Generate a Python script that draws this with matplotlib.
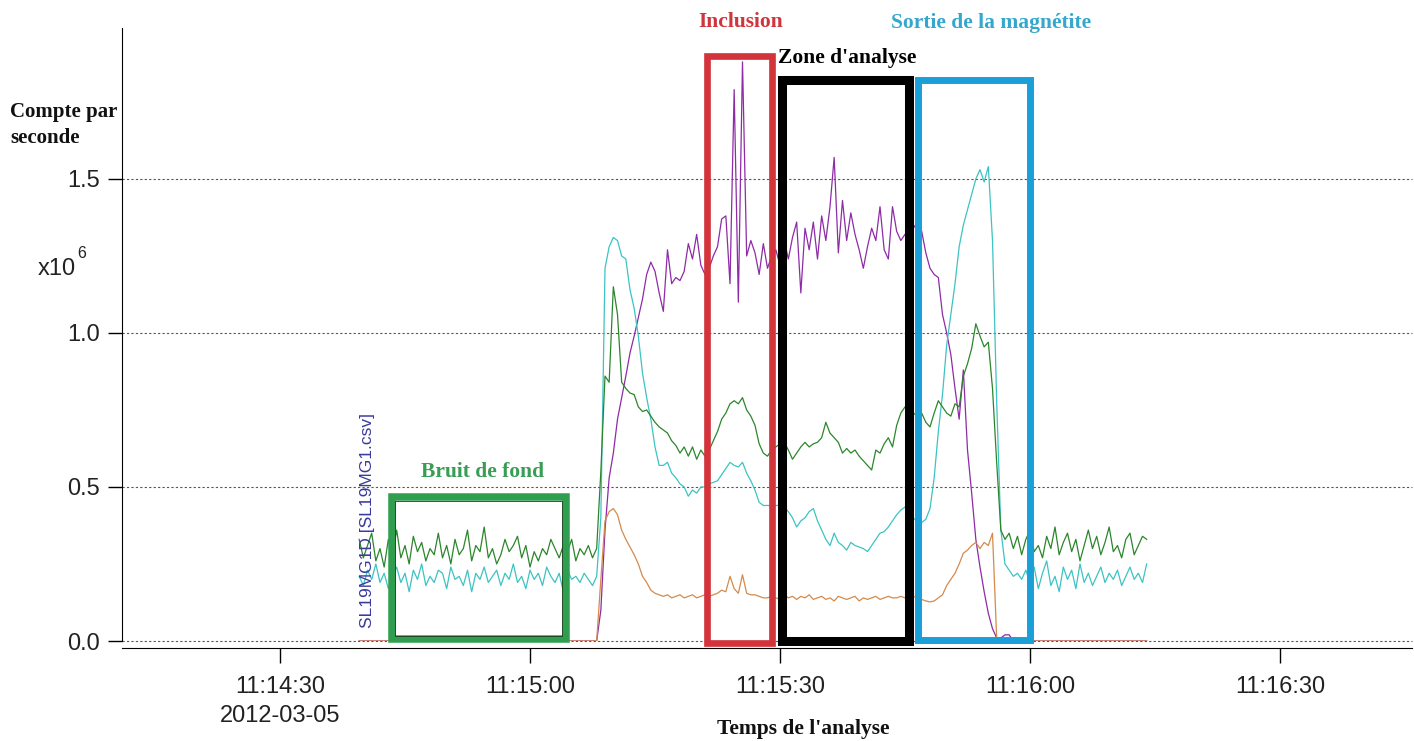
import numpy as np
import matplotlib
matplotlib.use("Agg")
import matplotlib.pyplot as plt
from matplotlib.patches import Rectangle

W, H, DPI = 1414, 741, 100

# ---- data (counts per second, in units of 1e6) ----
# samples every 0.5 s, first sample at 11:14:39.5 (seconds after 11:14:00)
t_start = 39.5
t_step = 0.5

purple = [
    0, 0, 0, 0, 0, 0, 0, 0, 0, 0,
    0, 0, 0, 0, 0, 0, 0, 0, 0, 0,
    0, 0, 0, 0, 0, 0, 0, 0, 0, 0,
    0, 0, 0, 0, 0, 0, 0, 0, 0, 0,
    0, 0, 0, 0, 0, 0, 0, 0, 0, 0,
    0, 0, 0, 0, 0, 0, 0, 0, 0.10, 0.36,
    0.53, 0.61, 0.72, 0.79, 0.86, 0.935, 0.99, 1.05, 1.11, 1.19,
    1.23, 1.20, 1.13, 1.07, 1.27, 1.16, 1.18, 1.17, 1.20, 1.29,
    1.24, 1.32, 1.22, 1.19, 1.21, 1.25, 1.28, 1.37, 1.38, 1.16,
    1.79, 1.10, 1.88, 1.25, 1.30, 1.26, 1.19, 1.29, 1.21, 1.25,
    1.27, 1.22, 1.30, 1.24, 1.31, 1.36, 1.13, 1.34, 1.27, 1.36,
    1.24, 1.38, 1.30, 1.41, 1.57, 1.26, 1.43, 1.30, 1.39, 1.32,
    1.27, 1.21, 1.28, 1.34, 1.30, 1.41, 1.27, 1.24, 1.41, 1.33,
    1.30, 1.32, 1.33, 1.34, 1.36, 1.33, 1.26, 1.21, 1.19, 1.18,
    1.06, 1.00, 0.93, 0.82, 0.72, 0.88, 0.62, 0.48, 0.33, 0.24,
    0.16, 0.09, 0.04, 0.01, 0.01, 0.02, 0.02, 0, 0, 0,
    0, 0, 0, 0, 0, 0, 0, 0, 0, 0,
    0, 0, 0, 0, 0, 0, 0, 0, 0, 0,
    0, 0, 0, 0, 0, 0, 0, 0, 0, 0,
]

cyan = [
    0.21, 0.18, 0.23, 0.20, 0.25, 0.19, 0.22, 0.17, 0.21, 0.24,
    0.19, 0.22, 0.16, 0.23, 0.20, 0.25, 0.18, 0.21, 0.19, 0.23,
    0.22, 0.17, 0.24, 0.20, 0.21, 0.18, 0.23, 0.16, 0.22, 0.20,
    0.24, 0.19, 0.21, 0.23, 0.18, 0.22, 0.20, 0.25, 0.19, 0.21,
    0.17, 0.23, 0.20, 0.22, 0.18, 0.24, 0.21, 0.19, 0.22, 0.16,
    0.23, 0.20, 0.21, 0.19, 0.22, 0.20, 0.18, 0.21, 0.40, 1.21,
    1.28, 1.31, 1.30, 1.25, 1.24, 1.14, 1.08, 0.99, 0.87, 0.79,
    0.72, 0.63, 0.57, 0.57, 0.58, 0.545, 0.53, 0.51, 0.50, 0.47,
    0.49, 0.48, 0.50, 0.50, 0.51, 0.515, 0.52, 0.54, 0.56, 0.58,
    0.57, 0.565, 0.58, 0.545, 0.52, 0.49, 0.45, 0.44, 0.44, 0.44,
    0.44, 0.44, 0.435, 0.42, 0.40, 0.37, 0.39, 0.40, 0.42, 0.43,
    0.39, 0.36, 0.33, 0.31, 0.35, 0.32, 0.31, 0.295, 0.32, 0.31,
    0.305, 0.30, 0.29, 0.31, 0.33, 0.35, 0.355, 0.37, 0.39, 0.41,
    0.425, 0.435, 0.42, 0.40, 0.385, 0.385, 0.395, 0.43, 0.53, 0.68,
    0.80, 0.96, 1.06, 1.16, 1.28, 1.35, 1.40, 1.45, 1.50, 1.53,
    1.49, 1.54, 1.30, 0.78, 0.36, 0.25, 0.23, 0.21, 0.22, 0.20,
    0.23, 0.19, 0.24, 0.17, 0.22, 0.26, 0.18, 0.21, 0.16, 0.24,
    0.20, 0.23, 0.17, 0.25, 0.19, 0.22, 0.18, 0.21, 0.24, 0.19,
    0.22, 0.20, 0.23, 0.18, 0.21, 0.24, 0.20, 0.22, 0.19, 0.25,
]

green = [
    0.33, 0.27, 0.31, 0.35, 0.26, 0.30, 0.24, 0.33, 0.28, 0.36,
    0.27, 0.31, 0.25, 0.34, 0.29, 0.32, 0.26, 0.30, 0.28, 0.35,
    0.27, 0.31, 0.25, 0.33, 0.28, 0.30, 0.36, 0.26, 0.31, 0.29,
    0.37, 0.27, 0.30, 0.25, 0.28, 0.33, 0.29, 0.31, 0.34, 0.27,
    0.31, 0.24, 0.29, 0.26, 0.30, 0.28, 0.33, 0.30, 0.27, 0.31,
    0.29, 0.33, 0.26, 0.30, 0.28, 0.31, 0.27, 0.30, 0.55, 0.86,
    0.84, 1.15, 1.06, 0.84, 0.82, 0.805, 0.80, 0.76, 0.745, 0.75,
    0.73, 0.71, 0.695, 0.685, 0.675, 0.65, 0.635, 0.61, 0.63, 0.60,
    0.63, 0.59, 0.62, 0.60, 0.62, 0.65, 0.68, 0.72, 0.74, 0.77,
    0.78, 0.77, 0.79, 0.75, 0.73, 0.70, 0.64, 0.61, 0.60, 0.62,
    0.63, 0.64, 0.645, 0.62, 0.59, 0.61, 0.63, 0.645, 0.63, 0.64,
    0.645, 0.66, 0.71, 0.675, 0.66, 0.645, 0.61, 0.625, 0.61, 0.62,
    0.60, 0.585, 0.57, 0.555, 0.62, 0.61, 0.64, 0.66, 0.63, 0.70,
    0.74, 0.76, 0.75, 0.74, 0.73, 0.74, 0.71, 0.695, 0.74, 0.78,
    0.76, 0.74, 0.73, 0.77, 0.76, 0.86, 0.90, 0.95, 1.03, 0.99,
    0.955, 0.97, 0.82, 0.58, 0.36, 0.33, 0.35, 0.30, 0.34, 0.28,
    0.33, 0.36, 0.29, 0.31, 0.27, 0.34, 0.30, 0.37, 0.28, 0.32,
    0.35, 0.29, 0.33, 0.26, 0.31, 0.36, 0.30, 0.34, 0.28, 0.32,
    0.37, 0.29, 0.31, 0.27, 0.33, 0.35, 0.28, 0.31, 0.34, 0.33,
]

orange = [
    0, 0, 0, 0, 0, 0, 0, 0, 0, 0,
    0, 0, 0, 0, 0, 0, 0, 0, 0, 0,
    0, 0, 0, 0, 0, 0, 0, 0, 0, 0,
    0, 0, 0, 0, 0, 0, 0, 0, 0, 0,
    0, 0, 0, 0, 0, 0, 0, 0, 0, 0,
    0, 0, 0, 0, 0, 0, 0, 0, 0.20, 0.39,
    0.42, 0.43, 0.41, 0.36, 0.33, 0.305, 0.28, 0.25, 0.21, 0.19,
    0.165, 0.155, 0.15, 0.145, 0.15, 0.14, 0.145, 0.15, 0.14, 0.145,
    0.15, 0.14, 0.145, 0.15, 0.145, 0.15, 0.155, 0.165, 0.16, 0.21,
    0.17, 0.155, 0.215, 0.155, 0.15, 0.15, 0.145, 0.14, 0.14, 0.145,
    0.14, 0.135, 0.15, 0.14, 0.145, 0.135, 0.145, 0.14, 0.15, 0.135,
    0.14, 0.145, 0.135, 0.14, 0.13, 0.145, 0.14, 0.135, 0.14, 0.145,
    0.13, 0.14, 0.135, 0.14, 0.145, 0.135, 0.14, 0.145, 0.14, 0.14,
    0.145, 0.14, 0.14, 0.145, 0.14, 0.135, 0.13, 0.127, 0.13, 0.14,
    0.15, 0.18, 0.20, 0.22, 0.25, 0.285, 0.295, 0.31, 0.32, 0.30,
    0.32, 0.31, 0.35, 0.01, 0, 0, 0, 0, 0, 0,
    0, 0, 0, 0, 0, 0, 0, 0, 0, 0,
    0, 0, 0, 0, 0, 0, 0, 0, 0, 0,
    0, 0, 0, 0, 0, 0, 0, 0, 0, 0,
]

x_ticks = [30, 60, 90, 120, 150]
x_tick_labels = ["11:14:30\n2012-03-05", "11:15:00", "11:15:30", "11:16:00", "11:16:30"]
y_ticks = [0.0, 0.5, 1.0, 1.5]
y_tick_labels = ["0.0", "0.5", "1.0", "1.5"]

# ---- styling ----
SANS = ["Liberation Sans", "DejaVu Sans"]
SERIF = ["Liberation Serif", "DejaVu Serif"]
plt.rcParams["font.family"] = SANS

fig = plt.figure(figsize=(W / DPI, H / DPI), dpi=DPI)
ax = fig.add_axes([122 / W, 1 - 641 / H, 1290 / W, 613 / H])

# spines first (set_position resets the ticks)
for s in ["top", "right"]:
    ax.spines[s].set_visible(False)
ax.spines["bottom"].set_position(("outward", 5))

def px(x, y):
    return x / W, 1 - y / H

series = [
    (purple, "#8e2ba6"),
    (cyan, "#3cc3c3"),
    (green, "#2b862b"),
    (orange, "#d48a4c"),
]
for vals, col in series:
    tt = t_start + t_step * np.arange(len(vals))
    ax.plot(tt, vals, color=col, lw=0.9, zorder=3)

ax.set_xlim(11.04, 165.84)
ax.set_ylim(0, 1.99)
ax.spines["left"].set_bounds(0, 1.99)

ax.set_xticks(x_ticks)
ax.set_xticklabels(x_tick_labels, linespacing=1.4)
ax.set_yticks(y_ticks)
ax.set_yticklabels(y_tick_labels)
ax.tick_params(axis="both", labelsize=17, labelcolor="#222222")
ax.tick_params(axis="x", direction="out", length=11, width=1, pad=9)
ax.tick_params(axis="y", direction="out", length=10, width=1, pad=6)

# dotted horizontal grid lines at the y ticks
for yv in y_ticks:
    ax.axhline(yv, linestyle=(0, (2, 2)), color="#555555", lw=0.8, zorder=1, clip_on=False)

# annotation boxes (data coordinates)
boxes = [
    (43.40, 64.30, 0.005, 0.466, "#2f9e4f", 5.4),
    (81.20, 89.00, -0.006, 1.90, "#d3333b", 4.8),
    (90.20, 105.50, 0.0, 1.82, "#000000", 6.5),
    (106.60, 120.00, 0.003, 1.82, "#1b9fd8", 5.0),
]
for x0, x1, y0, y1, col, lw in boxes:
    ax.add_patch(Rectangle((x0, y0), x1 - x0, y1 - y0, fill=False,
                           edgecolor=col, lw=lw, zorder=5, clip_on=False))
# thin dark inner edge of the green box
ax.add_patch(Rectangle((43.80, 0.017), 64.30 - 43.40 - 0.8, 0.466 - 0.005 - 0.024,
                       fill=False, edgecolor="#1a3a1a", lw=0.6, zorder=6, clip_on=False))

serif_kw = dict(family=SERIF, fontweight="bold", fontsize=15.5, ha="center", va="center")
fig.text(*px(483, 472), "Bruit de fond", color="#3a9d55", **serif_kw)
fig.text(*px(741, 22), "Inclusion", color="#d0343c", **serif_kw)
fig.text(*px(847, 58), "Zone d'analyse", color="#000000", **serif_kw)
fig.text(*px(991, 23), "Sortie de la magnétite", color="#35a7cf", **serif_kw)
fig.text(*px(803, 729), "Temps de l'analyse", color="#111111", **serif_kw)

fig.text(*px(10, 117), "Compte par", family=SERIF, fontweight="bold", fontsize=15,
         ha="left", va="baseline", color="#111111")
fig.text(*px(10, 143), "seconde", family=SERIF, fontweight="bold", fontsize=15,
         ha="left", va="baseline", color="#111111")
fig.text(*px(38, 275), "x10", fontsize=17, ha="left", va="baseline", color="#222222")
fig.text(*px(77, 258), "6", fontsize=11.5, ha="left", va="baseline", color="#222222")

fig.text(*px(367, 628), "SL19MG1D [SL19MG1.csv]", rotation=90, fontsize=12.5,
         ha="center", va="bottom", color="#3a3a9c", zorder=1)

fig.savefig("out.png", dpi=DPI)
